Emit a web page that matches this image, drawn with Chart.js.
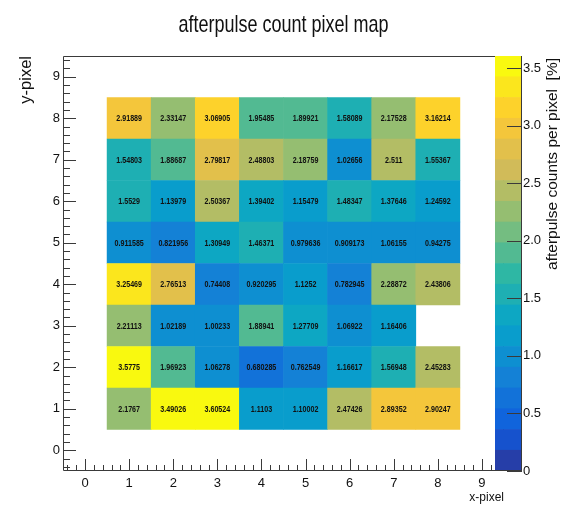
<!DOCTYPE html>
<html>
<head>
<meta charset="utf-8">
<script src="https://cdn.jsdelivr.net/npm/chart.js@4.4.1/dist/chart.umd.min.js"></script>
<style>
  html, body { margin: 0; padding: 0; background: #fff; }
  #wrap { position: relative; width: 573px; height: 507px; }
  #map { position: absolute; left: 0; top: 0; }
  #pal { position: absolute; left: 495px; top: 0; }
</style>
</head>
<body>
<div id="wrap">
  <canvas id="map" width="573" height="507"></canvas>
  <canvas id="pal" width="78" height="507"></canvas>
</div>
<script>
// ---- data -------------------------------------------------------------
const xPixels = [1, 2, 3, 4, 5, 6, 7, 8];
const yPixels = [1, 2, 3, 4, 5, 6, 7, 8];

// afterpulse counts per pixel [%], one array per y-pixel row (x = 1..8)
const countsY1 = [2.1767, 3.49026, 3.60524, 1.1103, 1.10002, 2.47426, 2.89352, 2.90247];
const countsY2 = [3.5775, 1.96923, 1.06278, 0.680285, 0.762549, 1.16617, 1.56948, 2.45283];
const countsY3 = [2.21113, 1.02189, 1.00233, 1.88941, 1.27709, 1.06922, 1.16406, null];
const countsY4 = [3.25469, 2.76513, 0.74408, 0.920295, 1.1252, 0.782945, 2.28872, 2.43806];
const countsY5 = [0.911585, 0.821956, 1.30949, 1.46371, 0.979636, 0.909173, 1.06155, 0.94275];
const countsY6 = [1.5529, 1.13979, 2.50367, 1.39402, 1.15479, 1.48347, 1.37646, 1.24592];
const countsY7 = [1.54803, 1.88687, 2.79817, 2.48803, 2.18759, 1.02656, 2.511, 1.55367];
const countsY8 = [2.91889, 2.33147, 3.06905, 1.95485, 1.89921, 1.58089, 2.17528, 3.16214];

const axisTicks = [0, 1, 2, 3, 4, 5, 6, 7, 8, 9];
const paletteTicks = [0, 0.5, 1, 1.5, 2, 2.5, 3, 3.5];

const rows = [countsY1, countsY2, countsY3, countsY4, countsY5, countsY6, countsY7, countsY8];

// ---- styling ----------------------------------------------------------
const SANS = '"Liberation Sans", Arial, Helvetica, sans-serif';
const INK = '#111';
const FRAME = '#3a3a3a';

// bird-like gradient, split into 20 contour levels
const birdStops = [0.0, 0.125, 0.25, 0.375, 0.5, 0.625, 0.75, 0.875, 1.0];
const birdR = [0.2082, 0.0592, 0.0780, 0.0232, 0.1802, 0.5301, 0.8186, 0.9956, 0.9764];
const birdG = [0.1664, 0.3599, 0.5041, 0.6419, 0.7178, 0.7492, 0.7328, 0.7862, 0.9832];
const birdB = [0.5293, 0.8684, 0.8385, 0.7914, 0.6425, 0.4662, 0.3499, 0.1968, 0.0539];

function buildGradient(n) {
  const out = [];
  for (let g = 1; g < birdStops.length; g++) {
    const nc = Math.floor(n * birdStops[g]) - Math.floor(n * birdStops[g - 1]);
    for (let c = 0; c < nc; c++) {
      const r = birdR[g - 1] + c * (birdR[g] - birdR[g - 1]) / nc;
      const gg = birdG[g - 1] + c * (birdG[g] - birdG[g - 1]) / nc;
      const b = birdB[g - 1] + c * (birdB[g] - birdB[g - 1]) / nc;
      out.push(`rgb(${Math.round(r * 255)},${Math.round(gg * 255)},${Math.round(b * 255)})`);
    }
  }
  return out;
}
const gradient = buildGradient(255);
const nLevels = 20;
const zMin = 0;
const zMax = Math.max(...rows.flat().filter(v => v != null));

function levelColor(level) {
  let idx = Math.floor((level + 0.99) * gradient.length / nLevels);
  if (idx > gradient.length - 1) idx = gradient.length - 1;
  return gradient[idx];
}
function valueColor(v) {
  return levelColor(Math.floor(0.01 + (v - zMin) * nLevels / (zMax - zMin)));
}

// draws a line of condensed text (horizontal squeeze) at x, y
function condensedText(ctx, text, x, y, squeeze) {
  ctx.save();
  ctx.translate(x, y);
  ctx.scale(squeeze, 1);
  ctx.fillText(text, 0, 0);
  ctx.restore();
}

// ---- heat map: one floating-bar dataset per row ------------------------
const mapDatasets = yPixels.map((y, r) => {
  const data = [];
  const colors = [];
  xPixels.forEach((x, i) => {
    const v = rows[r][i];
    if (v == null) return;
    data.push({ x: x, y: [y - 0.5, y + 0.5], v: v });
    colors.push(valueColor(v));
  });
  return {
    label: 'y = ' + y,
    data: data,
    backgroundColor: colors,
    borderWidth: 0,
    grouped: false,
    barPercentage: 1,
    categoryPercentage: 1
  };
});

// cell value labels
const cellText = {
  id: 'cellText',
  afterDatasetsDraw(chart) {
    const ctx = chart.ctx;
    ctx.save();
    ctx.font = 'bold 9.5px ' + SANS;
    ctx.fillStyle = INK;
    ctx.textAlign = 'center';
    ctx.textBaseline = 'middle';
    chart.data.datasets.forEach((ds, di) => {
      chart.getDatasetMeta(di).data.forEach((el, i) => {
        const c = el.getCenterPoint();
        condensedText(ctx, String(ds.data[i].v), c.x, c.y + 0.5, 0.75);
      });
    });
    ctx.restore();
  }
};

// frame with inward major / minor tick marks
const frameTicks = {
  id: 'frameTicks',
  afterDraw(chart) {
    const { ctx, chartArea: a, scales: { x, y } } = chart;
    ctx.save();
    ctx.strokeStyle = FRAME;
    ctx.lineWidth = 1;
    ctx.beginPath();
    ctx.rect(a.left + 0.5, a.top + 0.5, a.right - a.left - 1, a.bottom - a.top - 1);
    for (let k = -2; k <= 47; k++) {
      const v = k / 5;
      const major = k % 5 === 0;
      const px = Math.round(x.getPixelForValue(v)) + 0.5;
      ctx.moveTo(px, a.bottom);
      ctx.lineTo(px, a.bottom - (major ? 12 : 6));
      const py = Math.round(y.getPixelForValue(v)) + 0.5;
      ctx.moveTo(a.left, py);
      ctx.lineTo(a.left + (major ? 13 : 7), py);
    }
    ctx.stroke();
    ctx.restore();
  }
};

const mainTitle = {
  id: 'mainTitle',
  afterDraw(chart) {
    const ctx = chart.ctx;
    ctx.save();
    ctx.font = '24px ' + SANS;
    ctx.fillStyle = INK;
    ctx.textAlign = 'center';
    ctx.textBaseline = 'alphabetic';
    condensedText(ctx, 'afterpulse count pixel map', 283.5, 31.5, 0.75);
    ctx.restore();
  }
};

new Chart(document.getElementById('map'), {
  type: 'bar',
  data: { datasets: mapDatasets },
  options: {
    responsive: false,
    animation: false,
    events: [],
    layout: { padding: { top: 56, right: 69, bottom: 0, left: 0 } },
    plugins: { legend: { display: false }, tooltip: { enabled: false }, title: { display: false } },
    scales: {
      x: {
        type: 'linear',
        min: -0.5,
        max: 9.5,
        offset: false,
        grid: { display: false, drawTicks: false },
        border: { display: false },
        afterBuildTicks: s => { s.ticks = axisTicks.map(v => ({ value: v })); },
        afterFit: s => { s.height = 36; },
        ticks: { padding: 5, color: INK, maxRotation: 0, autoSkip: false, font: { family: SANS, size: 13 } },
        title: { display: true, text: 'x-pixel', align: 'end', color: INK,
                 font: { family: SANS, size: 12 }, padding: { top: 0, bottom: 2 } }
      },
      y: {
        type: 'linear',
        min: -0.5,
        max: 9.5,
        grid: { display: false, drawTicks: false },
        border: { display: false },
        afterBuildTicks: s => { s.ticks = axisTicks.map(v => ({ value: v })); },
        afterFit: s => { s.width = 63; },
        ticks: { padding: 3, color: INK, autoSkip: false, font: { family: SANS, size: 13 } },
        title: { display: true, text: 'y-pixel', align: 'end', color: INK,
                 font: { family: SANS, size: 16.5 }, padding: { top: 17, bottom: 0 } }
      }
    }
  },
  plugins: [cellText, frameTicks, mainTitle]
});

// ---- colour scale ------------------------------------------------------
const bandDatasets = [];
for (let i = 0; i < nLevels; i++) {
  const lo = zMin + i * (zMax - zMin) / nLevels;
  const hi = zMin + (i + 1) * (zMax - zMin) / nLevels;
  bandDatasets.push({
    label: 'level ' + i,
    data: [[lo, hi]],
    backgroundColor: levelColor(i),
    borderWidth: 0,
    grouped: false,
    barPercentage: 1,
    categoryPercentage: 1
  });
}

const paletteAxis = {
  id: 'paletteAxis',
  afterDraw(chart) {
    const { ctx, chartArea: a, scales: { y } } = chart;
    ctx.save();
    ctx.strokeStyle = FRAME;
    ctx.lineWidth = 1;
    ctx.beginPath();
    ctx.moveTo(a.left, a.bottom - 0.5);
    ctx.lineTo(a.right, a.bottom - 0.5);
    paletteTicks.forEach(v => {
      const py = Math.round(y.getPixelForValue(v)) + 0.5;
      ctx.moveTo(a.right, py);
      ctx.lineTo(a.right - 14, py);
    });
    ctx.stroke();
    // rotated colour-scale title, reading upwards
    ctx.translate(58, 58);
    ctx.rotate(-Math.PI / 2);
    ctx.font = '15.5px ' + SANS;
    ctx.fillStyle = INK;
    ctx.textAlign = 'right';
    ctx.textBaseline = 'middle';
    ctx.fillText('afterpulse counts per pixel  [%]', 0, 0);
    ctx.restore();
  }
};

new Chart(document.getElementById('pal'), {
  type: 'bar',
  data: { labels: ['z'], datasets: bandDatasets },
  options: {
    responsive: false,
    animation: false,
    events: [],
    layout: { padding: { top: 56, right: 0, bottom: 36, left: 0 } },
    plugins: { legend: { display: false }, tooltip: { enabled: false } },
    scales: {
      x: { display: false },
      y: {
        type: 'linear',
        position: 'right',
        min: zMin,
        max: zMax,
        grid: { display: false, drawTicks: false },
        border: { display: true, color: FRAME, width: 1 },
        afterBuildTicks: s => { s.ticks = paletteTicks.map(v => ({ value: v })); },
        afterFit: s => { s.width = 52; },
        ticks: { padding: 2, color: INK, autoSkip: false, font: { family: SANS, size: 13 } }
      }
    }
  },
  plugins: [paletteAxis]
});
</script>
</body>
</html>
